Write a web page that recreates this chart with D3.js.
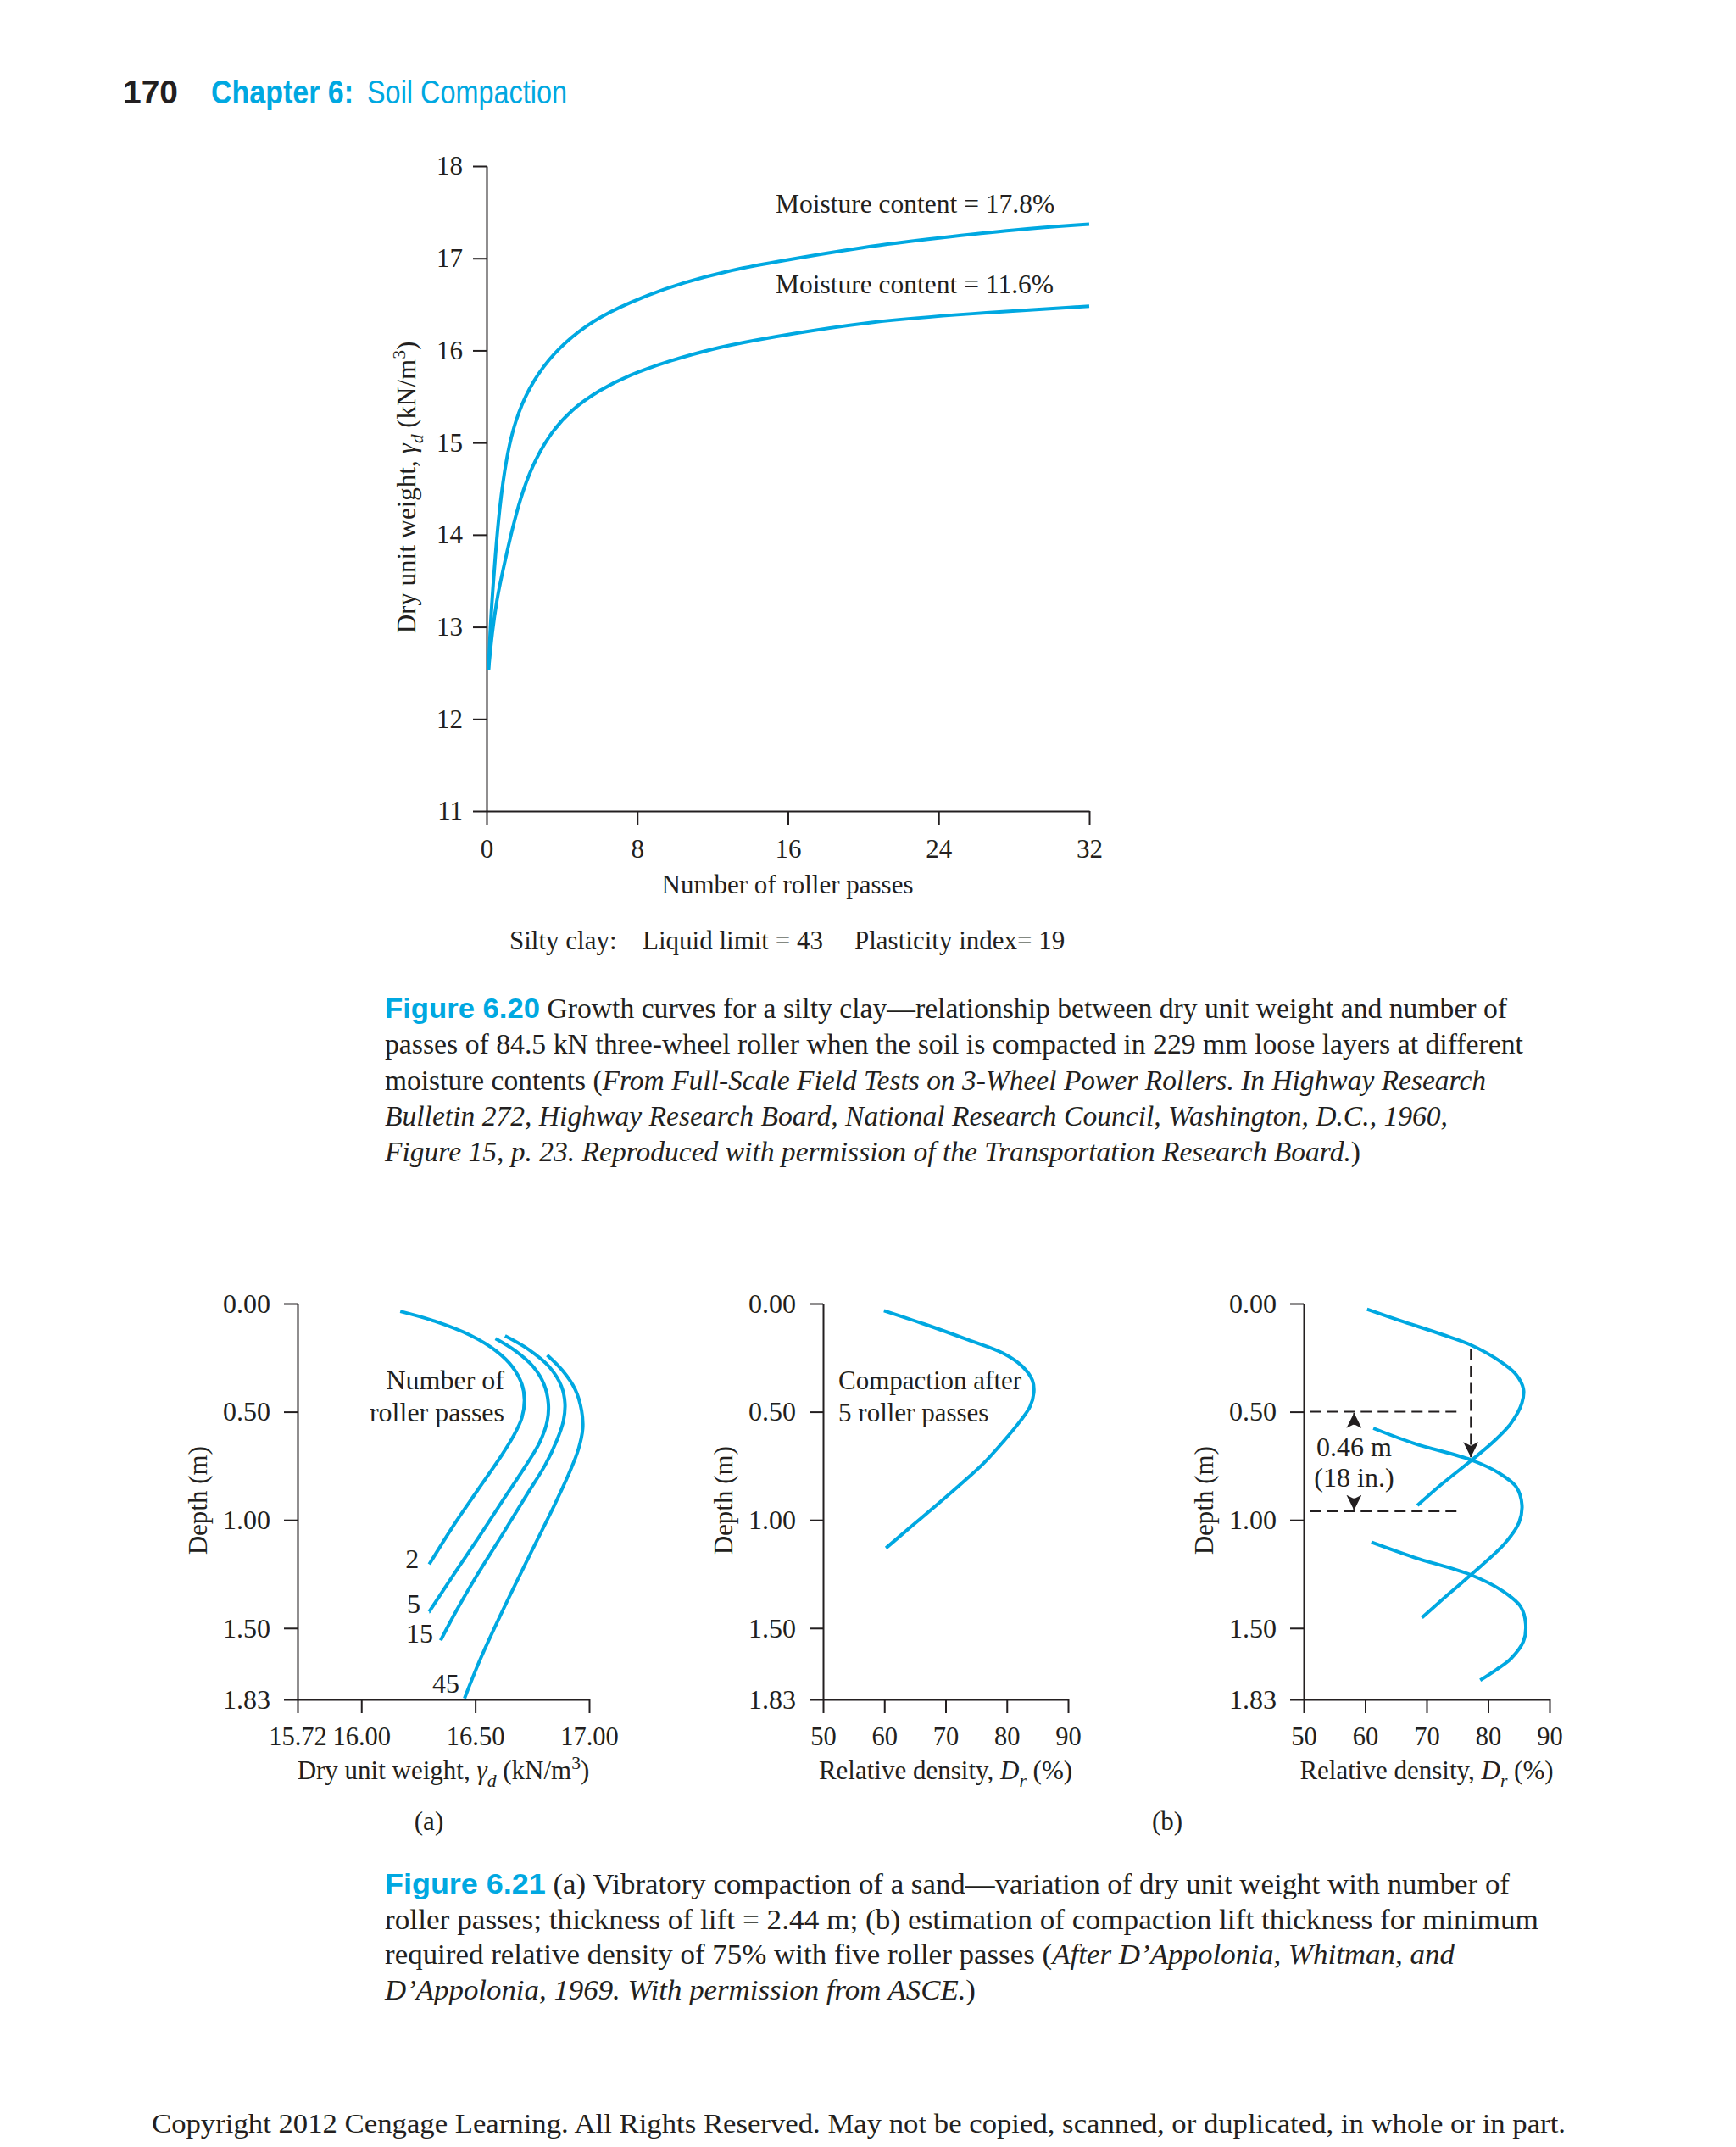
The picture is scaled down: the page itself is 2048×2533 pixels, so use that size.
<!DOCTYPE html>
<html>
<head>
<meta charset="utf-8">
<script src="https://cdn.jsdelivr.net/npm/d3@7"></script>
<style>
  body { margin: 0; background: #fff; }
  svg { display: block; }
</style>
</head>
<body>
<script>
pageWidth = 2048;
pageHeight = 2533;
blue = "#00a8e1";
ink = "#231f20";
serif = "'Liberation Serif', 'Times New Roman', serif";
sans = "'Liberation Sans', Arial, sans-serif";

// Figure 6.20 - growth curves (passes vs dry unit weight)
passes178 = [0.1, 0.2, 0.33, 0.45, 0.675, 1.05, 1.5, 2.25, 3.3, 4.5, 6, 8.25, 10.5, 12.75, 15, 20.2, 24, 28, 32];
weight178 = [12.53, 13.0, 13.4, 13.73, 14.28, 14.84, 15.23, 15.6, 15.91, 16.15, 16.37, 16.58, 16.74, 16.86, 16.95, 17.13, 17.22, 17.31, 17.37];
passes116 = [0.1, 0.3, 0.55, 0.8, 1.05, 1.35, 1.8, 2.4, 3.3, 4.5, 6, 7.5, 9.75, 12, 14.25, 16.2, 20.2, 25.66, 32];
weight116 = [12.53, 12.95, 13.3, 13.55, 13.78, 14.05, 14.4, 14.74, 15.08, 15.36, 15.57, 15.73, 15.89, 16.02, 16.11, 16.18, 16.31, 16.4, 16.48];
topXTicks = [0, 8, 16, 24, 32];
topYTicks = [11, 12, 13, 14, 15, 16, 17, 18];

// Figure 6.21 (a) - dry unit weight vs depth for number of passes
passLabels = ["2", "5", "15", "45"];
depth2 = [0.036, 0.081, 0.146, 0.219, 0.292, 0.373, 0.446, 0.527, 0.608, 0.706, 0.868, 1.022, 1.205];
unitWt2 = [16.171, 16.322, 16.478, 16.592, 16.663, 16.705, 16.716, 16.705, 16.67, 16.613, 16.507, 16.407, 16.298];
depth5 = [0.162, 0.219, 0.292, 0.373, 0.462, 0.543, 0.641, 0.754, 0.9, 1.071, 1.241, 1.424];
unitWt5 = [16.589, 16.677, 16.755, 16.802, 16.821, 16.816, 16.783, 16.719, 16.627, 16.521, 16.413, 16.298];
depth15 = [0.149, 0.211, 0.292, 0.381, 0.462, 0.543, 0.633, 0.746, 0.884, 1.054, 1.257, 1.411, 1.557];
unitWt15 = [16.631, 16.733, 16.825, 16.878, 16.894, 16.887, 16.858, 16.807, 16.726, 16.627, 16.507, 16.422, 16.348];
depth45 = [0.238, 0.308, 0.397, 0.495, 0.576, 0.673, 0.787, 0.933, 1.144, 1.42, 1.647, 1.825];
unitWt45 = [16.816, 16.882, 16.939, 16.967, 16.972, 16.953, 16.911, 16.847, 16.748, 16.62, 16.521, 16.453];
unitWtTicks = [15.72, 16.00, 16.50, 17.00];
depthTicks = [0, 0.5, 1.0, 1.5, 1.83];

// Figure 6.21 (b) - relative density vs depth after 5 passes
depthB = [0.0325, 0.094, 0.167, 0.229, 0.289, 0.354, 0.411, 0.476, 0.549, 0.639, 0.736, 0.829, 0.923, 1.026, 1.13];
densB = [59.94, 66.49, 73.66, 79.39, 82.5, 84.17, 84.41, 83.79, 82.02, 79.39, 76.28, 72.7, 68.88, 64.58, 60.27];
// overlapped lifts
depthL1 = [0.026, 0.078, 0.143, 0.191, 0.264, 0.329, 0.394, 0.459, 0.556, 0.638, 0.727, 0.832, 0.933];
densL1 = [60.31, 65.63, 72.57, 77.19, 81.82, 84.59, 85.75, 85.51, 83.66, 80.89, 77.19, 72.57, 68.5];
depthL2 = [0.576, 0.646, 0.722, 0.784, 0.848, 0.93, 1.011, 1.108, 1.254, 1.368, 1.452];
densL2 = [61.33, 67.94, 77.19, 81.82, 84.59, 85.51, 85.05, 82.74, 77.19, 72.57, 69.24];
depthL3 = [1.103, 1.173, 1.254, 1.327, 1.4, 1.481, 1.562, 1.643, 1.692, 1.741];
densL3 = [61.01, 67.94, 77.19, 82.28, 85.28, 86.12, 85.75, 83.66, 81.35, 78.72];
densTicks = [50, 60, 70, 80, 90];
liftTop = 0.50;
liftBottom = 0.96;
requiredDens = 77.2;

const svg = d3.select("body").append("svg")
  .attr("width", pageWidth)
  .attr("height", pageHeight);

svg.append("rect")
  .attr("width", pageWidth)
  .attr("height", pageHeight)
  .attr("fill", "white");

// text with italic / sub / sup pieces
function richText(text, parts, size) {
  let shift = 0;
  parts.forEach(p => {
    const target = p.sub ? size * 0.28 : (p.sup ? -size * 0.4 : 0);
    const ts = text.append("tspan").text(p.t).attr("dy", target - shift);
    shift = target;
    if (p.i) ts.style("font-style", "italic");
    if (p.b) ts.style("font-weight", "bold");
    if (p.sub || p.sup) ts.attr("font-size", size * 0.7);
    if (p.size) ts.attr("font-size", p.size);
    if (p.fill) ts.attr("fill", p.fill);
    if (p.font) ts.attr("font-family", p.font);
  });
  return text;
}

function label(x, y, size) {
  return svg.append("text")
    .attr("x", x)
    .attr("y", y)
    .attr("font-family", serif)
    .attr("font-size", size)
    .attr("fill", ink);
}

// page header
svg.append("text").attr("x", 145).attr("y", 122)
  .attr("font-family", sans).attr("font-weight", "bold").attr("font-size", 38)
  .attr("textLength", 65).attr("lengthAdjust", "spacingAndGlyphs")
  .attr("fill", ink).text("170");
svg.append("text").attr("x", 249).attr("y", 122)
  .attr("font-family", sans).attr("font-weight", "bold").attr("font-size", 38)
  .attr("textLength", 168).attr("lengthAdjust", "spacingAndGlyphs")
  .attr("fill", blue).text("Chapter 6:");
svg.append("text").attr("x", 433).attr("y", 122)
  .attr("font-family", sans).attr("font-size", 38)
  .attr("textLength", 236).attr("lengthAdjust", "spacingAndGlyphs")
  .attr("fill", blue).text("Soil Compaction");

function styleAxis(g, size) {
  g.selectAll("path, line").attr("stroke", ink).attr("stroke-width", 2);
  g.selectAll("text").attr("font-family", serif).attr("font-size", size).attr("fill", ink);
}

// ---------- Figure 6.20 ----------
const xTop = d3.scaleLinear().domain([0, 32]).range([574, 1285]);
const yTop = d3.scaleLinear().domain([11, 18]).range([957, 196]);

svg.append("g")
  .attr("transform", `translate(0,${yTop(11)})`)
  .call(d3.axisBottom(xTop).tickValues(topXTicks).tickFormat(d3.format("d")).tickSize(16).tickSizeOuter(0).tickPadding(17))
  .call(g => styleAxis(g, 31));
svg.append("g")
  .attr("transform", `translate(${xTop(0)},0)`)
  .call(d3.axisLeft(yTop).tickValues(topYTicks).tickFormat(d3.format("d")).tickSize(16).tickSizeOuter(0).tickPadding(12))
  .call(g => styleAxis(g, 31));

const topLine = d3.line()
  .x(d => xTop(d[0]))
  .y(d => yTop(d[1]))
  .curve(d3.curveBasis);

[[passes178, weight178], [passes116, weight116]].forEach(s => {
  svg.append("path")
    .attr("d", topLine(d3.zip(s[0], s[1])))
    .attr("fill", "none")
    .attr("stroke", blue)
    .attr("stroke-width", 4);
});

label(915, 251, 31.5).text("Moisture content = 17.8%");
label(915, 346, 31.5).text("Moisture content = 11.6%");

label(929, 1054, 31).attr("text-anchor", "middle").text("Number of roller passes");
richText(label(0, 0, 31)
  .attr("transform", `translate(490,575) rotate(-90)`)
  .attr("text-anchor", "middle"),
  [{t: "Dry unit weight, "}, {t: "γ", i: true}, {t: "d", i: true, sub: true}, {t: " (kN/m"}, {t: "3", sup: true}, {t: ")"}], 31);

label(601, 1120, 31).text("Silty clay:");
label(758, 1120, 31).text("Liquid limit = 43");
label(1008, 1120, 31).text("Plasticity index= 19");

// caption 6.20
const fig = {t: "Figure 6.20", font: sans, b: true, fill: blue, size: 34};
const caption620 = [
  [fig, {t: " Growth curves for a silty clay—relationship between dry unit weight and number of"}],
  [{t: "passes of 84.5 kN three-wheel roller when the soil is compacted in 229 mm loose layers at different"}],
  [{t: "moisture contents ("}, {t: "From Full-Scale Field Tests on 3-Wheel Power Rollers. In Highway Research", i: true}],
  [{t: "Bulletin 272, Highway Research Board, National Research Council, Washington, D.C., 1960,", i: true}],
  [{t: "Figure 15, p. 23. Reproduced with permission of the Transportation Research Board.", i: true}, {t: ")"}]
];
widths620 = [1324, 1343, 1299, 1254, 1151];
caption620.forEach((parts, i) => richText(label(454, 1201 + i * 42.3, 33)
  .attr("textLength", widths620[i]).attr("lengthAdjust", "spacingAndGlyphs"), parts, 33));

// ---------- Figure 6.21 ----------
const yDepth = d3.scaleLinear().domain([0, 1.83]).range([1538, 2005]);

function depthPanel(x, xTicks, xFmt) {
  svg.append("g")
    .attr("transform", `translate(0,${yDepth(1.83)})`)
    .call(d3.axisBottom(x).tickValues(xTicks).tickFormat(xFmt).tickSize(16).tickSizeOuter(0).tickPadding(16))
    .call(g => styleAxis(g, 30.5));
  svg.append("g")
    .attr("transform", `translate(${x.range()[0]},0)`)
    .call(d3.axisLeft(yDepth).tickValues(depthTicks).tickFormat(d3.format(".2f")).tickSize(16).tickSizeOuter(0).tickPadding(16))
    .call(g => styleAxis(g, 32));
  label(0, 0, 31)
    .attr("transform", `translate(${x.range()[0] - 107},${yDepth(0.91)}) rotate(-90)`)
    .attr("text-anchor", "middle")
    .text("Depth (m)");
}

function depthCurve(x, depths, vals) {
  const line = d3.line()
    .x(d => x(d[1]))
    .y(d => yDepth(d[0]))
    .curve(d3.curveCatmullRom);
  svg.append("path")
    .attr("d", line(d3.zip(depths, vals)))
    .attr("fill", "none")
    .attr("stroke", blue)
    .attr("stroke-width", 4);
}

// (a)
const xA = d3.scaleLinear().domain([15.72, 17.0]).range([351, 695]);
depthPanel(xA, unitWtTicks, d3.format(".2f"));
[[depth2, unitWt2], [depth5, unitWt5], [depth15, unitWt15], [depth45, unitWt45]]
  .forEach(s => depthCurve(xA, s[0], s[1]));
label(xA(16.628), yDepth(0.397), 32).attr("text-anchor", "end").text("Number of");
label(xA(16.628), yDepth(0.543), 32).attr("text-anchor", "end").text("roller passes");
[[16.223, 1.224], [16.23, 1.43], [16.256, 1.567], [16.371, 1.80]].forEach((p, i) => {
  label(xA(p[0]), yDepth(p[1]), 32).attr("text-anchor", "middle").text(passLabels[i]);
});
richText(label(xA(16.36), 2099, 31).attr("text-anchor", "middle"),
  [{t: "Dry unit weight, "}, {t: "γ", i: true}, {t: "d", i: true, sub: true}, {t: " (kN/m"}, {t: "3", sup: true}, {t: ")"}], 31);
label(506, 2159, 31).attr("text-anchor", "middle").text("(a)");

// (b) single lift
const xB = d3.scaleLinear().domain([50, 90]).range([971, 1260]);
depthPanel(xB, densTicks, d3.format("d"));
depthCurve(xB, depthB, densB);
label(xB(52.5), yDepth(0.397), 31).text("Compaction after");
label(xB(52.5), yDepth(0.543), 31).text("5 roller passes");
richText(label(xB(70), 2099, 31).attr("text-anchor", "middle"),
  [{t: "Relative density, "}, {t: "D", i: true}, {t: "r", i: true, sub: true}, {t: " (%)"}], 31);

// (b) lift thickness estimate
const xC = d3.scaleLinear().domain([50, 90]).range([1538, 1828]);
depthPanel(xC, densTicks, d3.format("d"));
[[depthL1, densL1], [depthL2, densL2], [depthL3, densL3]].forEach(s => depthCurve(xC, s[0], s[1]));
richText(label(xC(70), 2099, 31).attr("text-anchor", "middle"),
  [{t: "Relative density, "}, {t: "D", i: true}, {t: "r", i: true, sub: true}, {t: " (%)"}], 31);
label(1377, 2159, 31).attr("text-anchor", "middle").text("(b)");

svg.append("defs").append("marker")
  .attr("id", "arrow")
  .attr("viewBox", [0, 0, 10, 10])
  .attr("refX", 10).attr("refY", 5)
  .attr("markerWidth", 18).attr("markerHeight", 18)
  .attr("markerUnits", "userSpaceOnUse")
  .attr("orient", "auto-start-reverse")
  .append("path")
  .attr("d", "M0,0 L10,5 L0,10 L2.5,5 Z")
  .attr("fill", ink);

[liftTop, liftBottom].forEach(dd => {
  svg.append("line")
    .attr("x1", xC(51)).attr("x2", xC(75.7))
    .attr("y1", yDepth(dd)).attr("y2", yDepth(dd))
    .attr("stroke", ink).attr("stroke-width", 2).attr("stroke-dasharray", "13,7");
});
svg.append("line")
  .attr("x1", xC(requiredDens)).attr("x2", xC(requiredDens))
  .attr("y1", yDepth(0.21)).attr("y2", yDepth(0.71))
  .attr("stroke", ink).attr("stroke-width", 2).attr("stroke-dasharray", "13,7")
  .attr("marker-end", "url(#arrow)");
svg.append("line")
  .attr("x1", xC(58.2)).attr("x2", xC(58.2))
  .attr("y1", yDepth(0.56)).attr("y2", yDepth(liftTop + 0.005))
  .attr("stroke", ink).attr("stroke-width", 2)
  .attr("marker-end", "url(#arrow)");
svg.append("line")
  .attr("x1", xC(58.2)).attr("x2", xC(58.2))
  .attr("y1", yDepth(0.9)).attr("y2", yDepth(liftBottom - 0.005))
  .attr("stroke", ink).attr("stroke-width", 2)
  .attr("marker-end", "url(#arrow)");
label(xC(58.2), yDepth(0.705), 32).attr("text-anchor", "middle").text("0.46 m");
label(xC(58.2), yDepth(0.846), 32).attr("text-anchor", "middle").text("(18 in.)");

// caption 6.21
const fig21 = {t: "Figure 6.21", font: sans, b: true, fill: blue, size: 34};
const caption621 = [
  [fig21, {t: "  (a) Vibratory compaction of a sand—variation of dry unit weight with number of"}],
  [{t: "roller passes; thickness of lift = 2.44 m; (b) estimation of compaction lift thickness for minimum"}],
  [{t: "required relative density of 75% with five roller passes ("}, {t: "After D’Appolonia, Whitman, and", i: true}],
  [{t: "D’Appolonia, 1969. With permission from ASCE.", i: true}, {t: ")"}]
];
widths621 = [1327, 1361, 1262, 697];
caption621.forEach((parts, i) => richText(label(454, 2234 + i * 41.7, 33)
  .attr("textLength", widths621[i]).attr("lengthAdjust", "spacingAndGlyphs"), parts, 33));

label(179, 2516, 32)
  .attr("textLength", 1668).attr("lengthAdjust", "spacingAndGlyphs")
  .text("Copyright 2012 Cengage Learning. All Rights Reserved. May not be copied, scanned, or duplicated, in whole or in part.");
</script>
</body>
</html>
